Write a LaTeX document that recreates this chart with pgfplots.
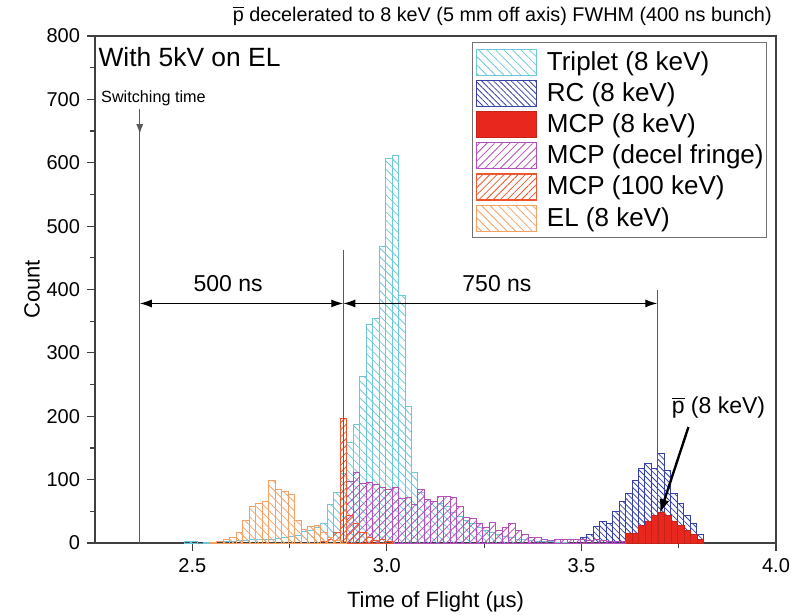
\documentclass[border=0pt]{standalone}
\usepackage{fontspec}
\setmainfont{Liberation Sans}
\usepackage{pgfplots}
\pgfplotsset{compat=1.18}
\usetikzlibrary{patterns.meta, arrows.meta}

\definecolor{tripcol}{RGB}{110,200,220}
\definecolor{rccol}{RGB}{55,65,170}
\definecolor{mcpred}{RGB}{232,40,30}
\definecolor{fringecol}{RGB}{180,80,185}
\definecolor{mcphund}{RGB}{240,85,45}
\definecolor{elcol}{RGB}{245,160,100}
\definecolor{linegray}{RGB}{90,90,90}

\pgfplotsset{
  swatch/.style={legend image code/.code={
      \draw[##1, line width=0.6pt] (0pt,-6.5pt) rectangle (30pt,6.5pt);}},
}

\begin{document}
\begin{tikzpicture}
\begin{axis}[
    scale only axis,
    width=340.5pt, height=253.5pt,
    xmin=2.25, xmax=4.0,
    ymin=0, ymax=800,
    xtick={2.5,3.0,3.5,4.0},
    minor xtick={2.75,3.25,3.75},
    ytick={0,100,...,800},
    minor ytick={50,150,...,750},
    tick pos=left,
    tick align=outside,
    major tick length=4pt,
    minor tick length=2.5pt,
    axis line style={black!75, line width=0.7pt},
    every tick/.style={black!75, line width=0.6pt},
    /pgf/number format/assume math mode=true,
    xticklabel style={/pgf/number format/.cd, fixed, fixed zerofill, precision=1},
    tick label style={font=\fontsize{10}{12}\selectfont},
    xlabel={Time of Flight (µs)},
    ylabel={Count},
    label style={font=\fontsize{11}{13}\selectfont},
    xlabel style={yshift=-3pt},
    ylabel style={yshift=-3.5pt},
    legend style={
        at={(0.987,0.988)}, anchor=north east,
        draw=black!55, line width=0.5pt, fill=white,
        font=\fontsize{13}{15}\selectfont,
        cells={anchor=west},
        nodes={inner sep=0pt},
        row sep=2pt, column sep=5pt,
        inner xsep=1.5pt, inner ysep=3pt,
    },
]
% Triplet (8 keV)
\addplot[ybar interval, draw=tripcol, line width=0.5pt,
    pattern={Lines[angle=-45,distance=3pt,line width=0.4pt]}, pattern color=tripcol, swatch]
    coordinates {(2.480,3) (2.4967,2) (2.5133,0) (2.530,1) (2.5467,0) (2.5633,2) (2.580,2) (2.5967,3)
    (2.6133,4) (2.630,4) (2.6467,5) (2.6633,6) (2.680,5) (2.6967,6) (2.7133,7) (2.730,8) (2.7467,10)
    (2.7633,12) (2.780,18) (2.7967,20) (2.8133,24) (2.830,31) (2.8467,60) (2.8633,80) (2.880,110)
    (2.8967,158) (2.9133,187) (2.930,262) (2.9467,344) (2.9633,354) (2.980,468) (2.9967,607)
    (3.0133,611) (3.030,391) (3.0467,215) (3.0633,112) (3.080,80) (3.0967,68) (3.1133,66) (3.130,62)
    (3.1467,58) (3.1633,48) (3.180,42) (3.1967,35) (3.2133,30) (3.230,25) (3.2467,20) (3.2633,16)
    (3.280,13) (3.2967,10) (3.3133,8) (3.330,6) (3.3467,5) (3.3633,4) (3.380,3) (3.3967,2) (3.4133,2)
    (3.430,1) (3.4467,1) (3.4633,0)};
\addlegendentry{Triplet (8 keV)}
% RC (8 keV)
\addplot[ybar interval, draw=rccol, line width=0.5pt,
    pattern={Lines[angle=-45,distance=2.1pt,line width=0.4pt]}, pattern color=rccol, swatch]
    coordinates {(3.4967,8) (3.5133,14) (3.530,26) (3.5467,34) (3.5633,31) (3.580,49) (3.5967,65)
    (3.6133,78) (3.630,99) (3.6467,118) (3.6633,126) (3.680,118) (3.6967,142) (3.7133,115) (3.730,78)
    (3.7467,63) (3.7633,44) (3.780,31) (3.7967,14) (3.8133,0)};
\addlegendentry{RC (8 keV)}
% MCP (8 keV)
\addplot[ybar interval, draw=mcpred!85!black, line width=0.3pt, fill=mcpred, swatch]
    coordinates {(3.6133,16) (3.630,16) (3.6467,28) (3.6633,35) (3.680,43) (3.6967,49) (3.7133,43)
    (3.730,35) (3.7467,28) (3.7633,20) (3.780,13) (3.7967,6) (3.8133,0)};
\addlegendentry{MCP (8 keV)}
% MCP (decel fringe)
\addplot[ybar interval, draw=fringecol, line width=0.5pt,
    pattern={Lines[angle=45,distance=2.7pt,line width=0.4pt]}, pattern color=fringecol, swatch]
    coordinates {(2.880,3) (2.8967,97) (2.9133,111) (2.930,94) (2.9467,96) (2.9633,92) (2.980,88)
    (2.9967,84) (3.0133,87) (3.030,70) (3.0467,72) (3.0633,60) (3.080,84) (3.0967,68) (3.1133,66)
    (3.130,73) (3.1467,73) (3.1633,72) (3.180,57) (3.1967,41) (3.2133,38) (3.230,31) (3.2467,24)
    (3.2633,32) (3.280,19) (3.2967,25) (3.3133,31) (3.330,19) (3.3467,13) (3.3633,9) (3.380,8)
    (3.3967,5) (3.4133,4) (3.430,6) (3.4467,5) (3.4633,6) (3.480,5) (3.4967,5) (3.5133,4) (3.530,5)
    (3.5467,4) (3.5633,3) (3.580,3) (3.5967,2) (3.6133,0)};
\addlegendentry{MCP (decel fringe)}
% MCP (100 keV)
\addplot[ybar interval, draw=mcphund, line width=0.5pt,
    pattern={Lines[angle=45,distance=2.5pt,line width=0.4pt]}, pattern color=mcphund, swatch]
    coordinates {(2.830,3) (2.8467,5) (2.8633,16) (2.880,197) (2.8967,44) (2.9133,31) (2.930,17)
    (2.9467,9) (2.9633,4) (2.980,6) (2.9967,2) (3.0133,0)};
\addlegendentry{MCP (100 keV)}
% EL (8 keV)
\addplot[ybar interval, draw=elcol, line width=0.5pt,
    pattern={Lines[angle=-45,distance=3pt,line width=0.4pt]}, pattern color=elcol, swatch]
    coordinates {(2.5467,1) (2.5633,3) (2.580,5) (2.5967,8) (2.6133,16) (2.630,36) (2.6467,58)
    (2.6633,63) (2.680,65) (2.6967,98) (2.7133,84) (2.730,81) (2.7467,77) (2.7633,36) (2.780,22)
    (2.7967,26) (2.8133,28) (2.830,16) (2.8467,8) (2.8633,4) (2.880,2) (2.8967,0)};
\addlegendentry{EL (8 keV)}

% annotations
\draw[linegray, line width=0.7pt] (2.365,0) -- (2.365,650);
\draw[linegray, line width=0.7pt, -{Latex[length=5pt,width=3.5pt]}] (2.365,685) -- (2.365,645);
\draw[linegray, line width=0.7pt] (2.888,0) -- (2.888,462);
\draw[linegray, line width=0.7pt] (3.695,0) -- (3.695,399);
\draw[black, line width=0.6pt, {Latex[length=6pt,width=4pt]}-{Latex[length=6pt,width=4pt]}]
    (2.365,378) -- (2.888,378);
\draw[black, line width=0.6pt, {Latex[length=6pt,width=4pt]}-{Latex[length=6pt,width=4pt]}]
    (2.888,378) -- (3.695,378);
\node[font=\fontsize{11.5}{13}\selectfont] at (2.592,410) {500 ns};
\node[font=\fontsize{11.5}{13}\selectfont] at (3.283,410) {750 ns};
\node[font=\fontsize{11.5}{13}\selectfont] at (3.852,214) {$\overline{\mbox{p}}$ (8 keV)};
\draw[black, line width=1.2pt, -{Latex[length=7pt,width=5pt]}] (3.775,183) -- (3.702,47);
\node[anchor=west, inner sep=0pt, font=\fontsize{13.2}{15}\selectfont] at (2.258,767) {With 5kV on EL};
\node[anchor=west, inner sep=0pt, font=\fontsize{8.1}{10}\selectfont] at (2.265,702) {Switching time};
\coordinate (SW) at (rel axis cs:0,0);
\coordinate (TT) at (rel axis cs:0.598,1);
\end{axis}
\node[anchor=base, inner sep=0pt, font=\fontsize{9.9}{12}\selectfont] at ([yshift=7.5pt]TT)
    {$\overline{\mbox{p}}$ decelerated to 8 keV (5 mm off axis) FWHM (400 ns bunch)};
\pgfresetboundingbox
\path (SW) ++(-47.5pt,-36pt) rectangle ++(401.5pt,307.5pt);
\end{tikzpicture}
\end{document}
